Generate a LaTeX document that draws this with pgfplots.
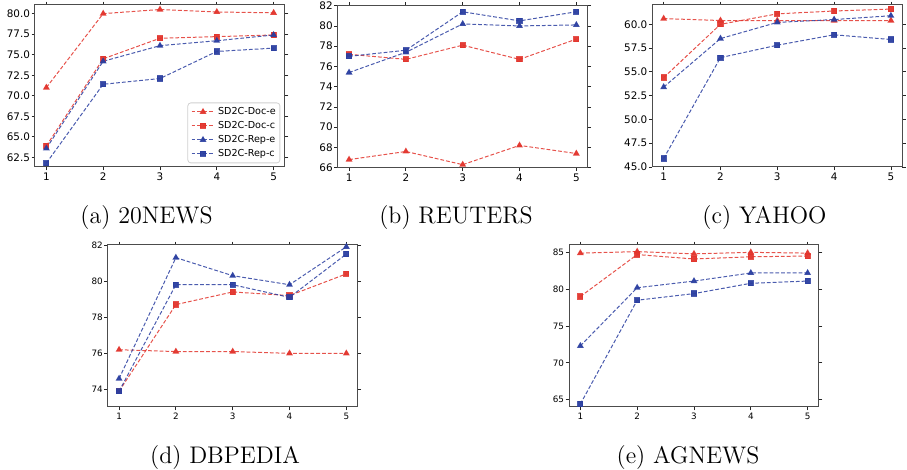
\documentclass[border=0pt]{standalone}
\usepackage{fontspec}
\usepackage{pgfplots}
\pgfplotsset{compat=1.18}
\usepackage{pgfplotstable}
\newfontfamily\dejavu{DejaVu Sans}
\definecolor{docred}{RGB}{226,52,44}
\definecolor{repblue}{RGB}{42,62,160}
\newcommand\tickA{\dejavu\fontsize{5.2}{6}\selectfont}
\newcommand\tickB{\dejavu\fontsize{4.4}{5}\selectfont}

% columns: step, Doc-e, Doc-c, Rep-e, Rep-c
\pgfplotstableread{
x de dc re rc
1 71.0 63.9 63.6 61.8
2 80.0 74.5 74.2 71.4
3 80.5 77.0 76.1 72.1
4 80.2 77.2 76.7 75.4
5 80.1 77.4 77.4 75.8
}\newsdata
\pgfplotstableread{
x de dc re rc
1 66.8 77.2 75.4 77.0
2 67.6 76.7 77.4 77.6
3 66.3 78.1 80.2 81.4
4 68.2 76.7 80.0 80.5
5 67.4 78.7 80.1 81.4
}\reutersdata
\pgfplotstableread{
x de dc re rc
1 60.6 54.4 53.4 45.9
2 60.4 60.0 58.5 56.5
3 60.4 61.1 60.2 57.8
4 60.4 61.4 60.5 58.9
5 60.4 61.6 60.9 58.4
}\yahoodata
\pgfplotstableread{
x de dc re rc
1 76.2 73.9 74.6 73.9
2 76.1 78.7 81.3 79.8
3 76.1 79.4 80.3 79.8
4 76.0 79.2 79.8 79.1
5 76.0 80.4 81.9 81.5
}\dbpediadata
\pgfplotstableread{
x de dc re rc
1 84.9 79.0 72.3 64.4
2 85.1 84.7 80.2 78.5
3 84.8 84.1 81.1 79.4
4 85.0 84.4 82.2 80.8
5 84.9 84.5 82.2 81.1
}\agnewsdata

\pgfplotsset{
  sd/.style={
    width=125pt, height=81pt, scale only axis,
    anchor=north west,
    xmin=0.8, xmax=5.2, xtick={1,2,3,4,5},
    tick align=outside, major tick length=1.7pt,
    tick style={black!85, line width=0.4pt},
    axis line style={black!70, line width=0.5pt},
    /pgf/number format/assume math mode=true,
    xticklabel style={inner ysep=1.2pt},
    yticklabel style={inner xsep=0.6pt},
    clip=false,
    legend image code/.code={
      \draw[mark repeat=2,mark phase=2,##1] plot coordinates {(0pt,0pt)(5.75pt,0pt)(11.5pt,0pt)};
    },
  },
  ln/.style={line width=0.5pt, dash pattern=on 1.9pt off 1pt, draw opacity=0.85,
    mark options={solid, fill opacity=0.95}},
  de/.style={ln, docred, mark=triangle*, mark size=1.5pt},
  dc/.style={ln, docred, mark=square*, mark size=1.3pt},
  re/.style={ln, repblue, mark=triangle*, mark size=1.5pt},
  rc/.style={ln, repblue, mark=square*, mark size=1.3pt},
  onedec/.style={yticklabel style={/pgf/number format/.cd, fixed, fixed zerofill, precision=1}},
}

\begin{document}
\begin{tikzpicture}
\useasboundingbox (0,0) rectangle (453.5pt,-235pt);

% (a) 20NEWS
\begin{axis}[sd, at={(17.5pt,-2.5pt)}, ticklabel style={font=\tickA}, onedec,
  ymin=61.33, ymax=81.05, ytick={62.5,65,67.5,70,72.5,75,77.5,80},
  legend style={at={(1,0)}, anchor=south east, xshift=-2.35pt, yshift=1.85pt,
    font=\dejavu\fontsize{4.8}{5.5}\selectfont, draw=black!18, rounded corners=1.5pt,
    inner xsep=1.6pt, inner ysep=1.75pt, row sep=1.5pt,
    nodes={inner sep=0.5pt, text height=3.6pt, text depth=0.9pt},
    cells={anchor=west},
    /tikz/every odd column/.append style={column sep=1pt}},
]
\addplot[de] table[x=x,y=de] {\newsdata};
\addplot[dc] table[x=x,y=dc] {\newsdata};
\addplot[re] table[x=x,y=re] {\newsdata};
\addplot[rc] table[x=x,y=rc] {\newsdata};
\legend{SD2C-Doc-e,SD2C-Doc-c,SD2C-Rep-e,SD2C-Rep-c}
\end{axis}

% (b) REUTERS
\begin{axis}[sd, at={(168.85pt,-2.85pt)}, ticklabel style={font=\tickA},
  ymin=66, ymax=82, ytick={66,68,...,82}]
\addplot[de] table[x=x,y=de] {\reutersdata};
\addplot[dc] table[x=x,y=dc] {\reutersdata};
\addplot[re] table[x=x,y=re] {\reutersdata};
\addplot[rc] table[x=x,y=rc] {\reutersdata};
\end{axis}

% (c) YAHOO
\begin{axis}[sd, at={(326.15pt,-2.5pt)}, ticklabel style={font=\tickA}, onedec,
  ymin=45, ymax=62.03, ytick={45,47.5,50,52.5,55,57.5,60}]
\addplot[de] table[x=x,y=de] {\yahoodata};
\addplot[dc] table[x=x,y=dc] {\yahoodata};
\addplot[re] table[x=x,y=re] {\yahoodata};
\addplot[rc] table[x=x,y=rc] {\yahoodata};
\end{axis}

% (d) DBPEDIA
\begin{axis}[sd, at={(53.85pt,-122.5pt)}, ticklabel style={font=\tickB},
  ymin=73.03, ymax=82, ytick={74,76,78,80,82}]
\addplot[de] table[x=x,y=de] {\dbpediadata};
\addplot[dc] table[x=x,y=dc] {\dbpediadata};
\addplot[re] table[x=x,y=re] {\dbpediadata};
\addplot[rc] table[x=x,y=rc] {\dbpediadata};
\end{axis}

% (e) AGNEWS
\begin{axis}[sd, at={(284.5pt,-122.5pt)}, ticklabel style={font=\tickB},
  ymin=64.0, ymax=86.0, ytick={65,70,75,80,85}]
\addplot[de] table[x=x,y=de] {\agnewsdata};
\addplot[dc] table[x=x,y=dc] {\agnewsdata};
\addplot[re] table[x=x,y=re] {\agnewsdata};
\addplot[rc] table[x=x,y=rc] {\agnewsdata};
\end{axis}

\begin{scope}[every node/.style={anchor=base, inner sep=0pt, font=\fontsize{12}{14}\selectfont}]
\node at (73.25pt,-112pt) {(a) 20NEWS};
\node at (228pt,-112pt) {(b) REUTERS};
\node at (382.25pt,-112pt) {(c) YAHOO};
\node at (112.5pt,-232pt) {(d) DBPEDIA};
\node at (344pt,-232pt) {(e) AGNEWS};
\end{scope}
\end{tikzpicture}
\end{document}
